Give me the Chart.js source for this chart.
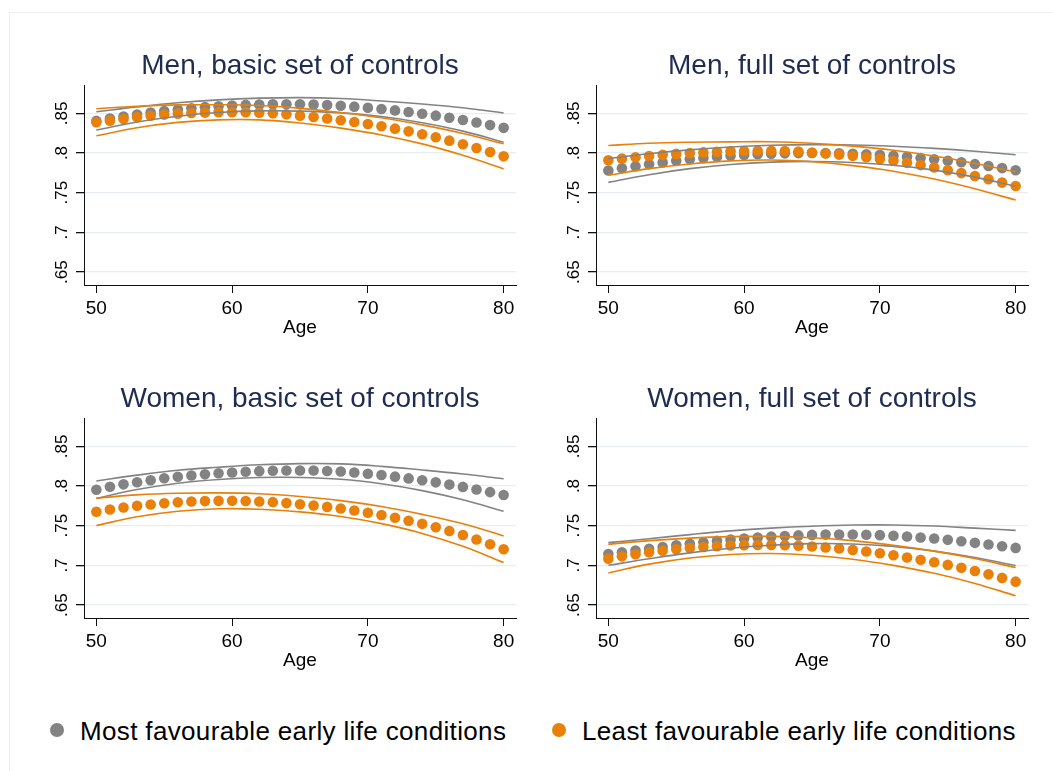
<!DOCTYPE html>
<html><head><meta charset="utf-8">
<script src="https://cdn.jsdelivr.net/npm/chart.js@4/dist/chart.umd.min.js"></script>
<style>
html,body{margin:0;padding:0;background:#fff;overflow:hidden;width:1053px;height:771px;}
#frame{position:absolute;left:9px;top:12px;width:1100px;height:800px;border-left:1px solid #edf0f1;border-top:1px solid #edf0f1;}
.panel{position:absolute;width:600px;height:310px;}
.leg{position:absolute;top:714px;height:34px;font-family:'Liberation Sans',Arial,sans-serif;font-size:26px;letter-spacing:0.35px;line-height:34px;color:#000;white-space:nowrap;}
.dot{position:absolute;width:14px;height:14px;border-radius:50%;top:723px;}
</style></head>
<body>
<div id="frame"></div>
<div class="panel" style="left:0px;top:40px"><canvas id="c1" width="600" height="310"></canvas></div>
<div class="panel" style="left:512px;top:40px"><canvas id="c2" width="600" height="310"></canvas></div>
<div class="panel" style="left:0px;top:373px"><canvas id="c3" width="600" height="310"></canvas></div>
<div class="panel" style="left:512px;top:373px"><canvas id="c4" width="600" height="310"></canvas></div>
<div class="dot" style="left:50px;background:#838383"></div>
<div class="leg" style="left:80px">Most favourable early life conditions</div>
<div class="dot" style="left:552px;background:#e8800a"></div>
<div class="leg" style="left:582px">Least favourable early life conditions</div>
<script>
// ---- data ----
const ages = [50,51,52,53,54,55,56,57,58,59,60,61,62,63,64,65,66,67,68,69,70,71,72,73,74,75,76,77,78,79,80];
const lineAges = [50,53,56,59,62,65,68,71,74,77,80];
const xTicks = [50,60,70,80];
const yTicks = [0.65,0.7,0.75,0.8,0.85];
const yTickLabels = ['.65','.7','.75','.8','.85'];
const panelTitles = ['Men, basic set of controls','Men, full set of controls','Women, basic set of controls','Women, full set of controls'];
const seriesNames = ['Most favourable early life conditions','Least favourable early life conditions'];

// Men, basic set of controls
const menBasicMost = [0.8405,0.8434,0.8461,0.8486,0.8509,0.8530,0.8548,0.8564,0.8578,0.8590,0.8599,0.8606,0.8611,0.8614,0.8615,0.8613,0.8610,0.8604,0.8596,0.8584,0.8570,0.8555,0.8537,0.8517,0.8495,0.8471,0.8445,0.8416,0.8385,0.8352,0.8317];
const menBasicLeast = [0.8387,0.8408,0.8429,0.8452,0.8470,0.8484,0.8496,0.8504,0.8509,0.8513,0.8514,0.8513,0.8508,0.8500,0.8487,0.8471,0.8454,0.8434,0.8412,0.8390,0.8366,0.8337,0.8307,0.8273,0.8236,0.8198,0.8156,0.8111,0.8063,0.8012,0.7958];
const menBasicMostHi = [0.8520,0.8581,0.8633,0.8670,0.8691,0.8698,0.8686,0.8656,0.8618,0.8570,0.8505];
const menBasicMostLo = [0.8290,0.8391,0.8463,0.8510,0.8531,0.8528,0.8506,0.8460,0.8382,0.8276,0.8135];
const menBasicLeastHi = [0.8557,0.8589,0.8606,0.8608,0.8598,0.8563,0.8510,0.8444,0.8355,0.8247,0.8116];
const menBasicLeastLo = [0.8217,0.8319,0.8386,0.8418,0.8418,0.8379,0.8314,0.8228,0.8115,0.7971,0.7800];

// Men, full set of controls
const menFullMost = [0.7780,0.7808,0.7834,0.7858,0.7881,0.7902,0.7921,0.7937,0.7952,0.7965,0.7975,0.7984,0.7991,0.7996,0.7999,0.8000,0.7999,0.7996,0.7991,0.7984,0.7976,0.7966,0.7953,0.7938,0.7922,0.7903,0.7883,0.7860,0.7836,0.7810,0.7782];
const menFullLeast = [0.7908,0.7929,0.7947,0.7963,0.7977,0.7989,0.7999,0.8008,0.8015,0.8021,0.8025,0.8027,0.8027,0.8024,0.8018,0.8006,0.7994,0.7980,0.7964,0.7946,0.7926,0.7903,0.7877,0.7848,0.7817,0.7783,0.7747,0.7709,0.7669,0.7627,0.7584];
const menFullMostHi = [0.7930,0.7991,0.8039,0.8075,0.8097,0.8106,0.8101,0.8085,0.8058,0.8022,0.7978];
const menFullMostLo = [0.7630,0.7727,0.7803,0.7855,0.7885,0.7894,0.7881,0.7845,0.7784,0.7696,0.7582];
const menFullLeastHi = [0.8095,0.8123,0.8136,0.8141,0.8142,0.8123,0.8087,0.8035,0.7962,0.7869,0.7761];
const menFullLeastLo = [0.7721,0.7803,0.7862,0.7901,0.7912,0.7889,0.7841,0.7771,0.7672,0.7549,0.7407];

// Women, basic set of controls
const womenBasicMost = [0.7953,0.7990,0.8021,0.8047,0.8073,0.8097,0.8117,0.8133,0.8147,0.8160,0.8171,0.8180,0.8187,0.8192,0.8195,0.8196,0.8195,0.8190,0.8182,0.8170,0.8155,0.8138,0.8118,0.8096,0.8072,0.8046,0.8018,0.7989,0.7957,0.7923,0.7886];
const womenBasicLeast = [0.7675,0.7704,0.7729,0.7750,0.7767,0.7782,0.7795,0.7804,0.7810,0.7813,0.7814,0.7811,0.7805,0.7797,0.7785,0.7771,0.7755,0.7737,0.7716,0.7692,0.7664,0.7634,0.7600,0.7563,0.7523,0.7480,0.7433,0.7382,0.7326,0.7266,0.7203];
const womenBasicMostHi = [0.8063,0.8137,0.8199,0.8237,0.8267,0.8282,0.8279,0.8248,0.8202,0.8151,0.8091];
const womenBasicMostLo = [0.7843,0.7955,0.8035,0.8082,0.8107,0.8108,0.8085,0.8028,0.7942,0.7827,0.7681];
const womenBasicLeastHi = [0.7847,0.7888,0.7908,0.7913,0.7902,0.7868,0.7816,0.7742,0.7643,0.7524,0.7371];
const womenBasicLeastLo = [0.7503,0.7612,0.7682,0.7713,0.7708,0.7674,0.7616,0.7526,0.7403,0.7240,0.7035];

// Women, full set of controls
const womenFullMost = [0.7144,0.7165,0.7187,0.7210,0.7232,0.7253,0.7273,0.7292,0.7309,0.7325,0.7339,0.7351,0.7362,0.7371,0.7378,0.7384,0.7388,0.7389,0.7389,0.7386,0.7381,0.7374,0.7364,0.7352,0.7338,0.7322,0.7304,0.7284,0.7263,0.7241,0.7220];
const womenFullLeast = [0.7085,0.7114,0.7140,0.7164,0.7185,0.7204,0.7219,0.7232,0.7242,0.7250,0.7255,0.7257,0.7257,0.7254,0.7247,0.7238,0.7226,0.7212,0.7195,0.7175,0.7152,0.7127,0.7100,0.7071,0.7040,0.7006,0.6970,0.6930,0.6887,0.6842,0.6795];
const womenFullMostHi = [0.7287,0.7336,0.7388,0.7435,0.7470,0.7494,0.7508,0.7509,0.7496,0.7469,0.7441];
const womenFullMostLo = [0.7001,0.7084,0.7158,0.7215,0.7254,0.7274,0.7270,0.7239,0.7180,0.7099,0.6999];
const womenFullLeastHi = [0.7265,0.7312,0.7344,0.7362,0.7365,0.7348,0.7312,0.7254,0.7180,0.7087,0.6973];
const womenFullLeastLo = [0.6905,0.7016,0.7094,0.7138,0.7149,0.7128,0.7078,0.7000,0.6900,0.6773,0.6617];

// ---- styling ----
const GRAY = '#838383';
const ORANGE = '#e8800a';
const TITLE = '#1f2c52';
const AXIS = '#111111';
const GRID = '#e5eef0';
Chart.defaults.font.family = "'Liberation Sans', Arial, Helvetica, sans-serif";

function pts(xs, ys){ return xs.map((x,i)=>({x:x, y:ys[i]})); }

function makePanel(id, title, most, least, mostHi, mostLo, leastHi, leastLo){
  const dotStyle = (c, ord) => ({backgroundColor:c, borderColor:c, borderWidth:0, pointRadius:5.3, pointHoverRadius:5.3, showLine:false, order:ord});
  const lineStyle = (c, ord) => ({borderColor:c, backgroundColor:c, borderWidth:1.6, pointRadius:0, pointHoverRadius:0, showLine:true, tension:0.4, fill:false, order:ord});
  new Chart(document.getElementById(id), {
    type:'scatter',
    data:{datasets:[
      Object.assign({label:seriesNames[0], data:pts(ages, most)}, dotStyle(GRAY,4)),
      Object.assign({label:seriesNames[1], data:pts(ages, least)}, dotStyle(ORANGE,3)),
      Object.assign({label:'ci', data:pts(lineAges, mostHi)}, lineStyle(GRAY,2)),
      Object.assign({label:'ci', data:pts(lineAges, mostLo)}, lineStyle(GRAY,2)),
      Object.assign({label:'ci', data:pts(lineAges, leastHi)}, lineStyle(ORANGE,1)),
      Object.assign({label:'ci', data:pts(lineAges, leastLo)}, lineStyle(ORANGE,1))
    ]},
    options:{
      responsive:false, animation:false, events:[],
      layout:{padding:{left:0,right:84,top:0,bottom:0}},
      plugins:{
        legend:{display:false}, tooltip:{enabled:false},
        title:{display:true, fullSize:false, text:title, color:TITLE, font:{size:28, weight:'normal'}, padding:{top:9.5,bottom:1.9}}
      },
      scales:{
        x:{type:'linear', position:'bottom', min:49.09, max:80.91,
          afterBuildTicks:s=>{ s.ticks = xTicks.map(v=>({value:v})); },
          afterFit:s=>{ s.height = 65; s.paddingLeft = 0; s.paddingRight = 0; },
          grid:{display:true, drawOnChartArea:false, drawTicks:true, tickLength:8, color:AXIS, tickColor:AXIS, lineWidth:1},
          border:{display:true, color:AXIS, width:1},
          ticks:{color:'#000', font:{size:19}, padding:4, minRotation:0, maxRotation:0, autoSkip:false},
          title:{display:true, text:'Age', color:'#000', font:{size:19}, padding:{top:0,bottom:10.6}}
        },
        y:{type:'linear', position:'left', min:0.6337, max:0.8857,
          afterBuildTicks:s=>{ s.ticks = yTicks.map(v=>({value:v})); },
          afterFit:s=>{ s.width = 84; s.paddingTop = 0; s.paddingBottom = 0; },
          grid:{display:true, drawOnChartArea:true, drawTicks:true, tickLength:8, color:GRID, tickColor:AXIS, lineWidth:1.3},
          border:{display:true, color:AXIS, width:1},
          ticks:{color:'#000', font:{size:17}, padding:1.7, minRotation:90, maxRotation:90, crossAlign:'center', autoSkip:false,
            callback:(v)=>{ const k = yTicks.findIndex(t=>Math.abs(t-v)<1e-9); return k>=0 ? yTickLabels[k] : ''; }}
        }
      }
    }
  });
}

makePanel('c1', panelTitles[0], menBasicMost, menBasicLeast, menBasicMostHi, menBasicMostLo, menBasicLeastHi, menBasicLeastLo);
makePanel('c2', panelTitles[1], menFullMost, menFullLeast, menFullMostHi, menFullMostLo, menFullLeastHi, menFullLeastLo);
makePanel('c3', panelTitles[2], womenBasicMost, womenBasicLeast, womenBasicMostHi, womenBasicMostLo, womenBasicLeastHi, womenBasicLeastLo);
makePanel('c4', panelTitles[3], womenFullMost, womenFullLeast, womenFullMostHi, womenFullMostLo, womenFullLeastHi, womenFullLeastLo);
</script>
</body></html>
